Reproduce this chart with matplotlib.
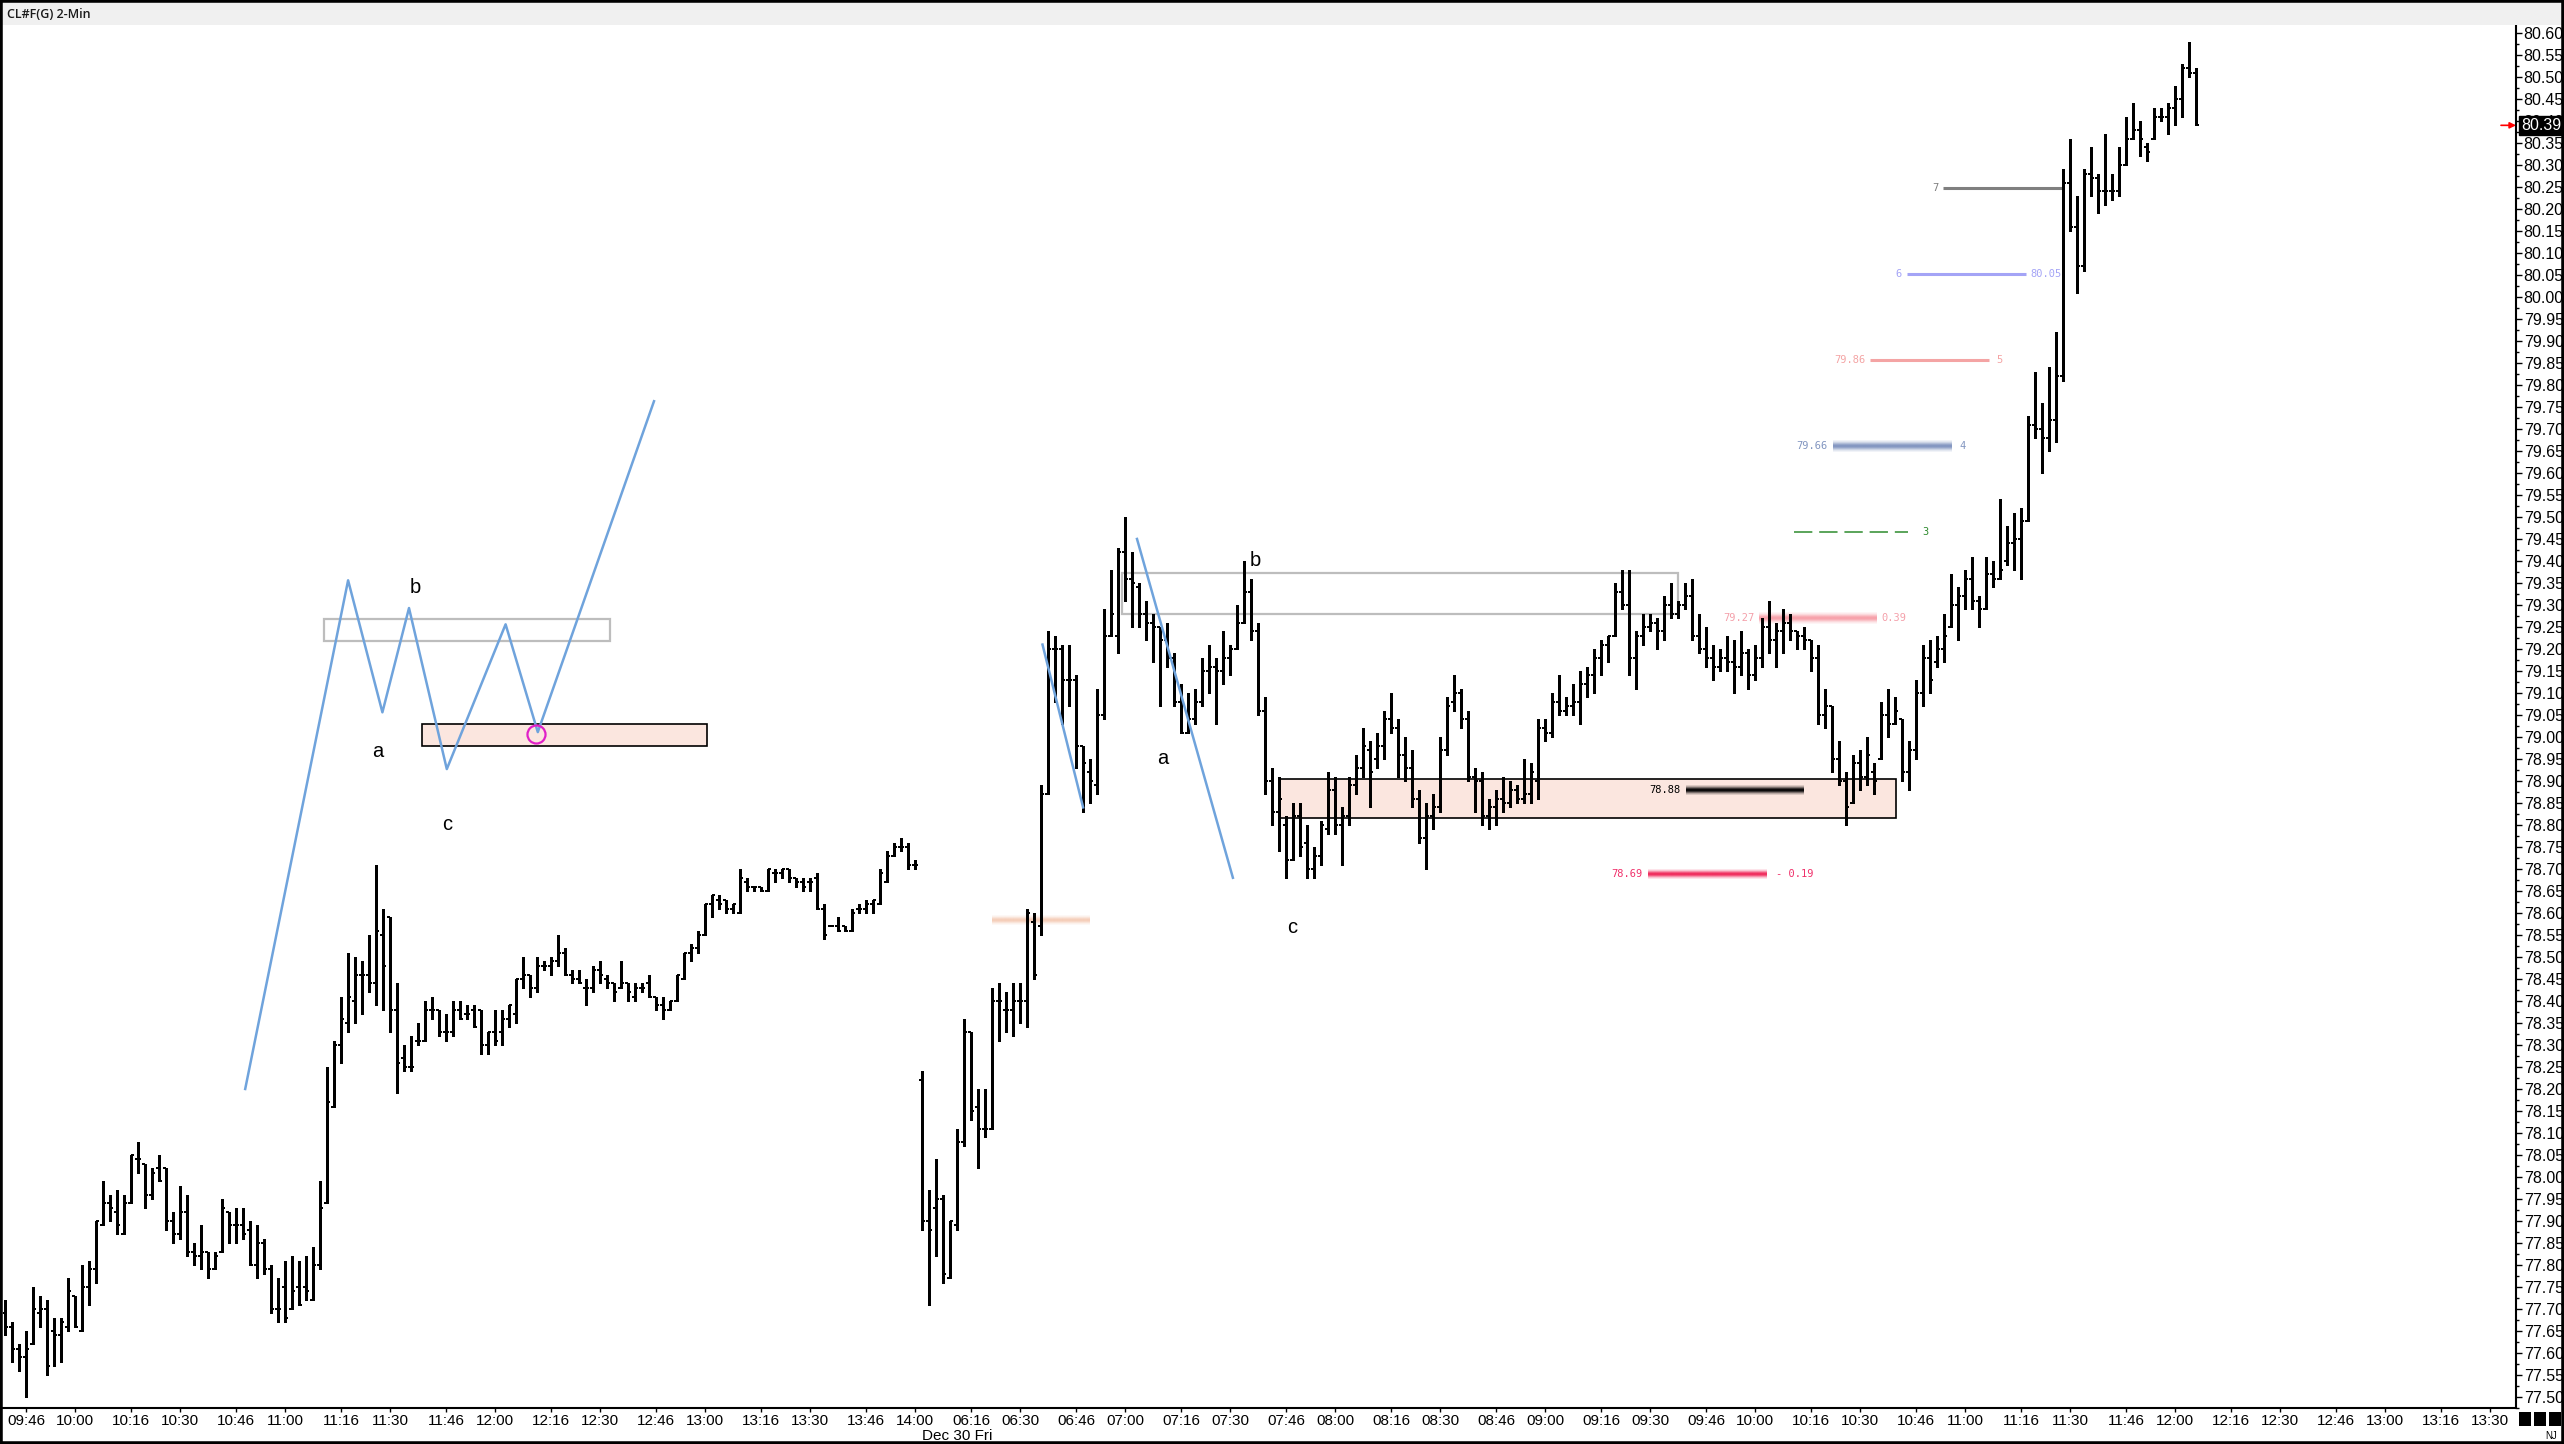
import matplotlib
matplotlib.use('Agg')
import matplotlib.pyplot as plt
import numpy as np
from matplotlib.patches import Rectangle
from matplotlib.colors import to_rgb
from matplotlib.transforms import blended_transform_factory
from matplotlib import font_manager

# ---- OHLC of the 2-min bars (bar index 0 = 09:40, index 131 = first bar of Dec 30) ----
opens = [
    77.69, 77.66, 77.61, 77.59, 77.62, 77.69, 77.70, 77.65, 77.64, 77.66,
    77.73, 77.65, 77.75, 77.79, 77.89, 77.94, 77.92, 77.87, 77.94, 78.04,
    78.03, 77.96, 78.02, 78.02, 77.90, 77.87, 77.92, 77.83, 77.82, 77.83,
    77.79, 77.83, 77.92, 77.89, 77.89, 77.88, 77.80, 77.85, 77.79, 77.70,
    77.75, 77.70, 77.75, 77.75, 77.72, 77.80, 77.94, 78.16, 78.30, 78.35,
    78.40, 78.46, 78.46, 78.44, 78.55, 78.59, 78.38, 78.27, 78.25, 78.31,
    78.31, 78.38, 78.38, 78.33, 78.33, 78.38, 78.37, 78.38, 78.38, 78.30,
    78.33, 78.33, 78.36, 78.37, 78.45, 78.46, 78.43, 78.48, 78.48, 78.49,
    78.51, 78.46, 78.45, 78.43, 78.43, 78.47, 78.45, 78.44, 78.43, 78.44,
    78.41, 78.43, 78.44, 78.41, 78.39, 78.38, 78.40, 78.45, 78.51, 78.52,
    78.55, 78.62, 78.63, 78.63, 78.61, 78.60, 78.67, 78.66, 78.66, 78.65,
    78.69, 78.69, 78.70, 78.68, 78.67, 78.67, 78.68, 78.61, 78.57, 78.57,
    78.57, 78.56, 78.61, 78.61, 78.62, 78.62, 78.67, 78.73, 78.75, 78.75, 78.71,
    78.22, 77.90, 77.93, 77.95, 77.77, 77.89, 78.08, 78.33, 78.16,
    78.11, 78.11, 78.40, 78.38, 78.38, 78.40, 78.40, 78.58, 78.57, 78.87,
    79.20, 79.20, 79.13, 79.13, 78.98, 78.92, 78.89, 79.05, 79.23, 79.23,
    79.42, 79.36, 79.34, 79.28, 79.26, 79.25, 79.22, 79.18, 79.08, 79.01,
    79.04, 79.08, 79.15, 79.16, 79.15, 79.18, 79.20, 79.26, 79.33, 79.24,
    79.06, 78.90, 78.83, 78.80, 78.72, 78.82, 78.76, 78.70, 78.73, 78.79,
    78.88, 78.80, 78.82, 78.89, 78.93, 78.97, 78.95, 78.98, 79.04, 79.02,
    78.96, 78.93, 78.86, 78.77, 78.82, 78.84, 78.97, 79.08, 79.10, 79.04,
    78.91, 78.90, 78.82, 78.84, 78.86, 78.85, 78.88, 78.86, 78.87, 78.90,
    79.02, 79.01, 79.08, 79.06, 79.07, 79.08, 79.12, 79.14, 79.18, 79.21,
    79.23, 79.33, 79.30, 79.18, 79.23, 79.25, 79.26, 79.24, 79.30, 79.28,
    79.30, 79.32, 79.23, 79.20, 79.18, 79.16, 79.18, 79.17, 79.16, 79.19,
    79.14, 79.18, 79.25, 79.22, 79.24, 79.26, 79.24, 79.23, 79.22, 79.18,
    79.05, 79.07, 78.95, 78.90, 78.85, 78.94, 78.91, 78.92, 78.95, 79.05,
    79.03, 79.04, 78.92, 78.97, 79.10, 79.18, 79.17, 79.20, 79.25, 79.30,
    79.32, 79.36, 79.31, 79.29, 79.37, 79.36, 79.40, 79.44, 79.45, 79.49,
    79.71, 79.70, 79.68, 79.72, 79.82, 80.26, 80.16, 80.07, 80.28, 80.27,
    80.24, 80.24, 80.24, 80.30, 80.36, 80.38, 80.34, 80.36, 80.41, 80.41,
    80.43, 80.45, 80.52, 80.51,
]
highs = [
    77.72, 77.67, 77.62, 77.65, 77.75, 77.73, 77.72, 77.68, 77.68, 77.77,
    77.73, 77.80, 77.81, 77.90, 77.99, 77.96, 77.97, 77.96, 78.05, 78.08,
    78.03, 78.02, 78.05, 78.02, 77.92, 77.98, 77.96, 77.85, 77.89, 77.83,
    77.83, 77.95, 77.92, 77.93, 77.93, 77.90, 77.89, 77.86, 77.80, 77.77,
    77.81, 77.82, 77.81, 77.82, 77.84, 77.99, 78.25, 78.31, 78.41, 78.51,
    78.50, 78.49, 78.55, 78.71, 78.61, 78.59, 78.44, 78.30, 78.32, 78.35,
    78.40, 78.41, 78.38, 78.37, 78.40, 78.40, 78.39, 78.39, 78.38, 78.33,
    78.38, 78.38, 78.39, 78.45, 78.50, 78.46, 78.50, 78.49, 78.50, 78.55,
    78.52, 78.47, 78.47, 78.45, 78.48, 78.49, 78.46, 78.44, 78.49, 78.44,
    78.44, 78.44, 78.46, 78.41, 78.41, 78.40, 78.46, 78.51, 78.53, 78.56,
    78.62, 78.64, 78.64, 78.63, 78.62, 78.70, 78.68, 78.66, 78.66, 78.70,
    78.70, 78.70, 78.70, 78.68, 78.68, 78.68, 78.69, 78.62, 78.57, 78.59,
    78.57, 78.61, 78.62, 78.63, 78.63, 78.70, 78.74, 78.76, 78.77, 78.76, 78.72,
    78.24, 77.97, 78.04, 77.96, 77.90, 78.11, 78.36, 78.33, 78.20,
    78.20, 78.43, 78.44, 78.42, 78.44, 78.44, 78.61, 78.60, 78.89, 79.24,
    79.23, 79.21, 79.21, 79.14, 78.98, 78.95, 79.11, 79.29, 79.38, 79.43,
    79.50, 79.42, 79.35, 79.31, 79.28, 79.25, 79.26, 79.19, 79.12, 79.10,
    79.11, 79.18, 79.21, 79.18, 79.24, 79.21, 79.30, 79.40, 79.36, 79.26,
    79.09, 78.93, 78.91, 78.82, 78.85, 78.85, 78.80, 78.75, 78.81, 78.92,
    78.91, 78.84, 78.91, 78.96, 79.02, 78.99, 79.01, 79.06, 79.10, 79.04,
    79.00, 78.97, 78.88, 78.85, 78.87, 79.00, 79.09, 79.14, 79.11, 79.06,
    78.93, 78.92, 78.86, 78.88, 78.91, 78.90, 78.89, 78.95, 78.94, 79.04,
    79.04, 79.10, 79.14, 79.09, 79.12, 79.15, 79.16, 79.20, 79.22, 79.23,
    79.35, 79.38, 79.38, 79.24, 79.28, 79.28, 79.27, 79.32, 79.35, 79.31,
    79.35, 79.36, 79.28, 79.25, 79.21, 79.20, 79.23, 79.22, 79.24, 79.20,
    79.21, 79.27, 79.31, 79.26, 79.29, 79.28, 79.24, 79.25, 79.22, 79.21,
    79.11, 79.07, 78.99, 78.92, 78.96, 78.97, 79.00, 78.94, 79.08, 79.11,
    79.09, 79.04, 78.99, 79.13, 79.21, 79.22, 79.23, 79.28, 79.37, 79.34,
    79.38, 79.41, 79.32, 79.41, 79.40, 79.54, 79.48, 79.51, 79.52, 79.73,
    79.83, 79.76, 79.84, 79.92, 80.29, 80.36, 80.23, 80.29, 80.34, 80.28,
    80.37, 80.28, 80.34, 80.41, 80.44, 80.40, 80.35, 80.43, 80.43, 80.44,
    80.48, 80.53, 80.58, 80.52,
]
lows = [
    77.64, 77.58, 77.56, 77.50, 77.62, 77.66, 77.55, 77.57, 77.58, 77.65,
    77.66, 77.65, 77.71, 77.76, 77.89, 77.90, 77.87, 77.87, 77.94, 78.01,
    77.93, 77.95, 77.99, 77.88, 77.85, 77.86, 77.82, 77.80, 77.79, 77.77,
    77.79, 77.83, 77.85, 77.85, 77.86, 77.80, 77.77, 77.78, 77.69, 77.67,
    77.67, 77.70, 77.71, 77.72, 77.72, 77.79, 77.94, 78.16, 78.26, 78.33,
    78.35, 78.37, 78.42, 78.39, 78.38, 78.33, 78.19, 78.24, 78.24, 78.30,
    78.31, 78.36, 78.32, 78.31, 78.32, 78.36, 78.36, 78.34, 78.28, 78.28,
    78.30, 78.30, 78.34, 78.35, 78.43, 78.41, 78.42, 78.47, 78.46, 78.48,
    78.46, 78.44, 78.44, 78.39, 78.42, 78.44, 78.43, 78.40, 78.43, 78.40,
    78.40, 78.42, 78.41, 78.38, 78.36, 78.38, 78.40, 78.45, 78.49, 78.51,
    78.55, 78.59, 78.61, 78.60, 78.60, 78.60, 78.65, 78.65, 78.65, 78.65,
    78.67, 78.68, 78.67, 78.66, 78.65, 78.65, 78.61, 78.54, 78.57, 78.56,
    78.56, 78.56, 78.60, 78.60, 78.60, 78.62, 78.67, 78.73, 78.74, 78.70, 78.70,
    77.88, 77.71, 77.82, 77.76, 77.77, 77.88, 78.07, 78.13, 78.02,
    78.09, 78.11, 78.31, 78.33, 78.32, 78.35, 78.34, 78.45, 78.55, 78.87,
    79.08, 79.03, 79.07, 78.93, 78.83, 78.85, 78.87, 79.04, 79.23, 79.19,
    79.31, 79.25, 79.25, 79.22, 79.17, 79.07, 79.16, 79.07, 79.01, 79.01,
    79.03, 79.07, 79.10, 79.03, 79.12, 79.14, 79.20, 79.26, 79.22, 79.05,
    78.87, 78.80, 78.74, 78.68, 78.72, 78.73, 78.68, 78.68, 78.71, 78.78,
    78.78, 78.71, 78.80, 78.87, 78.91, 78.84, 78.93, 78.95, 79.01, 78.91,
    78.90, 78.84, 78.76, 78.70, 78.79, 78.83, 78.96, 79.06, 79.02, 78.90,
    78.83, 78.80, 78.79, 78.80, 78.83, 78.84, 78.85, 78.85, 78.85, 78.86,
    78.99, 79.00, 79.05, 79.05, 79.05, 79.03, 79.09, 79.10, 79.14, 79.17,
    79.23, 79.29, 79.14, 79.11, 79.21, 79.24, 79.20, 79.22, 79.27, 79.27,
    79.29, 79.22, 79.19, 79.16, 79.13, 79.15, 79.15, 79.10, 79.14, 79.11,
    79.13, 79.16, 79.19, 79.16, 79.19, 79.22, 79.20, 79.20, 79.15, 79.03,
    79.02, 78.92, 78.89, 78.80, 78.85, 78.88, 78.89, 78.87, 78.95, 79.00,
    79.03, 78.90, 78.88, 78.95, 79.07, 79.10, 79.16, 79.17, 79.25, 79.22,
    79.29, 79.29, 79.25, 79.29, 79.34, 79.36, 79.39, 79.38, 79.36, 79.49,
    79.68, 79.60, 79.65, 79.67, 79.81, 80.15, 80.01, 80.06, 80.23, 80.19,
    80.21, 80.22, 80.23, 80.30, 80.36, 80.32, 80.31, 80.36, 80.40, 80.37,
    80.39, 80.41, 80.50, 80.39,
]
closes = [
    77.66, 77.61, 77.59, 77.61, 77.70, 77.70, 77.57, 77.64, 77.67, 77.74,
    77.66, 77.75, 77.79, 77.90, 77.94, 77.93, 77.89, 77.94, 78.05, 78.04,
    77.96, 78.01, 77.99, 77.90, 77.87, 77.92, 77.83, 77.82, 77.83, 77.79,
    77.82, 77.93, 77.89, 77.89, 77.87, 77.80, 77.85, 77.79, 77.70, 77.70,
    77.68, 77.74, 77.71, 77.74, 77.80, 77.93, 78.17, 78.30, 78.36, 78.41,
    78.46, 78.46, 78.44, 78.56, 78.48, 78.38, 78.26, 78.25, 78.25, 78.31,
    78.38, 78.38, 78.33, 78.33, 78.38, 78.36, 78.37, 78.34, 78.30, 78.33,
    78.31, 78.36, 78.39, 78.45, 78.46, 78.43, 78.48, 78.48, 78.49, 78.51,
    78.46, 78.45, 78.44, 78.43, 78.47, 78.46, 78.44, 78.42, 78.44, 78.42,
    78.43, 78.43, 78.41, 78.39, 78.38, 78.40, 78.46, 78.51, 78.52, 78.55,
    78.62, 78.64, 78.62, 78.61, 78.62, 78.68, 78.66, 78.66, 78.65, 78.70,
    78.69, 78.70, 78.68, 78.67, 78.66, 78.67, 78.61, 78.55, 78.57, 78.56,
    78.56, 78.60, 78.61, 78.62, 78.63, 78.69, 78.73, 78.75, 78.75, 78.71, 78.71,
    77.90, 77.88, 77.95, 77.78, 77.90, 78.08, 78.33, 78.15, 78.11,
    78.11, 78.40, 78.40, 78.38, 78.40, 78.40, 78.60, 78.46, 78.87, 79.20,
    79.20, 79.13, 79.13, 78.98, 78.94, 78.90, 79.05, 79.23, 79.28, 79.42,
    79.36, 79.35, 79.28, 79.26, 79.25, 79.22, 79.18, 79.08, 79.01, 79.04,
    79.08, 79.15, 79.16, 79.15, 79.18, 79.20, 79.26, 79.33, 79.24, 79.06,
    78.90, 78.83, 78.86, 78.72, 78.82, 78.75, 78.70, 78.73, 78.80, 78.88,
    78.80, 78.82, 78.89, 78.93, 78.98, 78.92, 78.98, 79.04, 79.02, 78.96,
    78.93, 78.86, 78.77, 78.82, 78.84, 78.97, 79.07, 79.10, 79.04, 78.91,
    78.90, 78.82, 78.84, 78.86, 78.85, 78.88, 78.86, 78.87, 78.92, 79.02,
    79.01, 79.08, 79.06, 79.07, 79.08, 79.12, 79.14, 79.18, 79.21, 79.23,
    79.33, 79.30, 79.18, 79.23, 79.25, 79.26, 79.24, 79.30, 79.28, 79.30,
    79.32, 79.23, 79.20, 79.18, 79.16, 79.18, 79.17, 79.16, 79.19, 79.14,
    79.18, 79.25, 79.22, 79.24, 79.26, 79.24, 79.23, 79.22, 79.18, 79.05,
    79.07, 78.95, 78.90, 78.84, 78.94, 78.91, 78.96, 78.90, 79.05, 79.03,
    79.06, 78.92, 78.97, 79.10, 79.18, 79.13, 79.20, 79.23, 79.30, 79.32,
    79.36, 79.31, 79.29, 79.37, 79.36, 79.38, 79.44, 79.45, 79.49, 79.71,
    79.70, 79.68, 79.72, 79.82, 80.26, 80.16, 80.07, 80.28, 80.27, 80.24,
    80.24, 80.24, 80.30, 80.36, 80.38, 80.36, 80.33, 80.41, 80.41, 80.43,
    80.45, 80.52, 80.51, 80.39,
]

# time axis labels and the bar they sit on
time_labels = ['09:46', '10:00', '10:16', '10:30', '10:46', '11:00', '11:16', '11:30', '11:46',
               '12:00', '12:16', '12:30', '12:46', '13:00', '13:16', '13:30', '13:46', '14:00',
               '06:16', '06:30', '06:46', '07:00', '07:16', '07:30', '07:46', '08:00', '08:16',
               '08:30', '08:46', '09:00', '09:16', '09:30', '09:46', '10:00', '10:16', '10:30',
               '10:46', '11:00', '11:16', '11:30', '11:46', '12:00', '12:16', '12:30', '12:46',
               '13:00', '13:16', '13:30']
time_bars = [3, 10, 18, 25, 33, 40, 48, 55, 63, 70, 78, 85, 93, 100, 108, 115, 123, 130,
             138, 145, 153, 160, 168, 175, 183, 190, 198, 205, 213, 220, 228, 235, 243, 250,
             258, 265, 273, 280, 288, 295, 303, 310, 318, 325, 333, 340, 348, 355]

# drawings (bar index, price)
sketch_x = [34.3, 49.0, 53.9, 57.7, 63.1, 71.5, 76.1, 92.7]
sketch_y = [78.20, 79.356, 79.056, 79.293, 78.927, 79.256, 79.011, 79.763]
leg1_x, leg1_y = [148.2, 154.0], [79.21, 78.84]
leg2_x, leg2_y = [161.7, 175.4], [79.45, 78.68]
grey_boxes = [(45.5, 86.4, 79.219, 79.267), (159.5, 239.0, 79.28, 79.373)]
zone_boxes = [(59.5, 100.2, 78.98, 79.03), (182.0, 270.1, 78.816, 78.905)]
circle_x, circle_y = 75.9, 79.007
abc_text = ['a', 'b', 'c', 'a', 'b', 'c']
abc_x = [53.2, 58.6, 63.1, 165.4, 178.6, 183.8]
abc_y = [78.967, 79.34, 78.80, 78.95, 79.40, 78.567]

# target levels: (x0, x1, price, colour)
level_lines = {'7': (276.9, 294.0, 80.247, '#7f7f7f'),
               '6': (271.7, 288.7, 80.051, '#a4a4f6'),
               '5': (266.4, 283.4, 79.857, '#f4a4a4')}
level3 = (255.6, 271.9, 79.466, '#2e8b2e')
bands = [(261.1, 278.0, 79.662, '#8195c0', 6),
         (250.6, 267.4, 79.27, '#f7a0a9', 6),
         (234.7, 251.6, 78.688, '#f0285a', 5),
         (240.1, 256.9, 78.88, '#000000', 5),
         (141.0, 155.0, 78.583, '#f5cdb8', 5)]

W, H = 2564, 1444
def fx(x):
    return x / W
def fy(y):
    return 1 - y / H

fig = plt.figure(figsize=(W / 100, H / 100), dpi=100)
fig.patch.set_facecolor('white')
ax = fig.add_axes([fx(3), fy(1408), fx(2516) - fx(3), fy(25) - fy(1408)])
ylo, yhi = 77.486, 80.618
xlo, xhi = -0.3, 358.7
px_per_price = (1408 - 25) / (yhi - ylo)

n = len(closes)
assert len(opens) == n and len(highs) == n and len(lows) == n
idx = np.arange(n)

# zones behind the bars
for x0, x1, y0, y1 in zone_boxes:
    ax.add_patch(Rectangle((x0, y0), x1 - x0, y1 - y0, fc='#fbe6df', ec='black', lw=1.2, zorder=1))
for x0, x1, y0, y1 in grey_boxes:
    ax.add_patch(Rectangle((x0, y0), x1 - x0, y1 - y0, fill=False, ec='#bdbdbd', lw=1.6, zorder=1))

def band(x0, x1, y, color, half_px):
    h = half_px / px_per_price
    t = np.linspace(-1, 1, 40)
    img = np.zeros((40, 2, 4))
    img[..., :3] = to_rgb(color)
    img[..., 3] = np.exp(-(t * 1.6) ** 2)[:, None]
    ax.imshow(img, extent=(x0, x1, y - h, y + h), aspect='auto', interpolation='bilinear', zorder=2)

for x0, x1, y, c, hp in bands:
    band(x0, x1, y, c, hp)

for key, (x0, x1, y, c) in level_lines.items():
    ax.hlines(y, x0, x1, colors=c, lw=2.2, zorder=2)
ax.hlines(level3[2], level3[0], level3[1], colors=level3[3], lw=1.1, linestyles=(0, (12, 4.5)), zorder=2)

# OHLC bars
ax.vlines(idx, lows, highs, colors='black', lw=2.16, antialiased=False, zorder=3)
ax.hlines(opens, idx - 0.45, idx, colors='black', lw=1.1, antialiased=False, zorder=3)
ax.hlines(closes, idx, idx + 0.45, colors='black', lw=1.1, antialiased=False, zorder=3)

# blue sketches
blue = '#6fa3dc'
ax.plot(sketch_x, sketch_y, color=blue, lw=1.8, zorder=4)
ax.plot(leg1_x, leg1_y, color=blue, lw=1.8, zorder=4)
ax.plot(leg2_x, leg2_y, color=blue, lw=1.8, zorder=4)
ax.plot([circle_x], [circle_y], 'o', ms=13, mfc='none', mec='#e020c8', mew=1.6, zorder=5)
for t, x, y in zip(abc_text, abc_x, abc_y):
    ax.text(x, y, t, ha='center', va='center', fontsize=14.5, family='Liberation Sans', zorder=5)

# level labels
mono = dict(family='DejaVu Sans Mono', fontsize=7.5, va='center', zorder=5)
ax.text(276.2, level_lines['7'][2], '7', color=level_lines['7'][3], ha='right', **mono)
ax.text(270.9, level_lines['6'][2], '6', color=level_lines['6'][3], ha='right', **mono)
ax.text(289.3, level_lines['6'][2], '80.05', color=level_lines['6'][3], ha='left', **mono)
ax.text(265.8, level_lines['5'][2], '79.86', color=level_lines['5'][3], ha='right', **mono)
ax.text(284.9, level_lines['5'][2], '5', color=level_lines['5'][3], ha='center', **mono)
ax.text(260.4, bands[0][2], '79.66', color=bands[0][3], ha='right', **mono)
ax.text(279.6, bands[0][2], '4', color=bands[0][3], ha='center', **mono)
ax.text(274.4, level3[2], '3', color=level3[3], ha='center', **mono)
ax.text(249.9, bands[1][2], '79.27', color='#f4a0aa', ha='right', **mono)
ax.text(268.1, bands[1][2], '0.39', color='#f4a0aa', ha='left', **mono)
ax.text(239.3, bands[3][2], '78.88', color='black', ha='right', **mono)
ax.text(233.9, bands[2][2], '78.69', color='#f0306a', ha='right', **mono)
ax.text(253.0, bands[2][2], '- 0.19', color='#f0306a', ha='left', **mono)

ax.set_xlim(xlo, xhi)
ax.set_ylim(ylo, yhi)

# axes styling
for s in ['left', 'top']:
    ax.spines[s].set_visible(False)
ax.spines['right'].set_linewidth(1.5)
ax.spines['bottom'].set_linewidth(1.5)
ax.yaxis.tick_right()
yt = np.round(np.arange(77.50, 80.601, 0.05), 2)
ax.set_yticks(yt)
ax.set_yticklabels(['%.2f' % v for v in yt], family='Liberation Sans', fontsize=11.5)
ax.set_yticks(np.arange(77.475, 80.62, 0.025), minor=True)
ax.tick_params(axis='y', which='major', direction='out', length=4, width=1, pad=1.5)
ax.tick_params(axis='y', which='minor', direction='out', length=2, width=1)

names = {f.name for f in font_manager.fontManager.ttflist}
if 'Liberation Sans Narrow' in names:
    tfam, tsize = 'Liberation Sans Narrow', 12.5
else:
    tfam, tsize = 'Liberation Sans', 11
ax.set_xticks(time_bars)
ax.set_xticklabels(time_labels, family=tfam, fontsize=tsize)
ax.tick_params(axis='x', direction='out', length=3, width=1, pad=1)
fig.text(fx(957), fy(1436), 'Dec 30 Fri', ha='center', va='center', family=tfam, fontsize=tsize)

# last price marker
last = closes[-1]
tr = blended_transform_factory(ax.transAxes, ax.transData)
ax.text(1.0 + 5 / 2513, last, '%.2f' % last, transform=tr, ha='left', va='center', color='white',
        family='Liberation Sans', fontsize=11.5, zorder=6,
        bbox=dict(boxstyle='square,pad=0.12', fc='black', ec='black'), clip_on=False)
ax.annotate('', xy=(1.0, last), xycoords=tr, xytext=(-15, 0), textcoords='offset pixels',
            arrowprops=dict(arrowstyle='-|>', color='red', lw=1.2, mutation_scale=9, shrinkA=0, shrinkB=0),
            annotation_clip=False)

# chart window chrome
fig.add_artist(Rectangle((0, fy(25)), 1, 25 / H, transform=fig.transFigure, fc='#f0f0f0', ec='none'))
fig.text(fx(7), fy(14), 'CL#F(G) 2-Min', ha='left', va='center', family='Open Sans',
         fontweight='semibold', fontsize=9, color='#1a1a1a')
for x0 in [2519, 2534, 2549]:
    fig.add_artist(Rectangle((fx(x0), fy(1426)), 12 / W, 14 / H, transform=fig.transFigure,
                             fc='black', ec='none'))
fig.text(fx(2551), fy(1436), 'NJ', ha='center', va='center', family='Liberation Sans', fontsize=7)
fig.add_artist(Rectangle((0, 0), 1, 1, transform=fig.transFigure, fill=False, ec='black', lw=4))

fig.savefig('out.png', dpi=100)
